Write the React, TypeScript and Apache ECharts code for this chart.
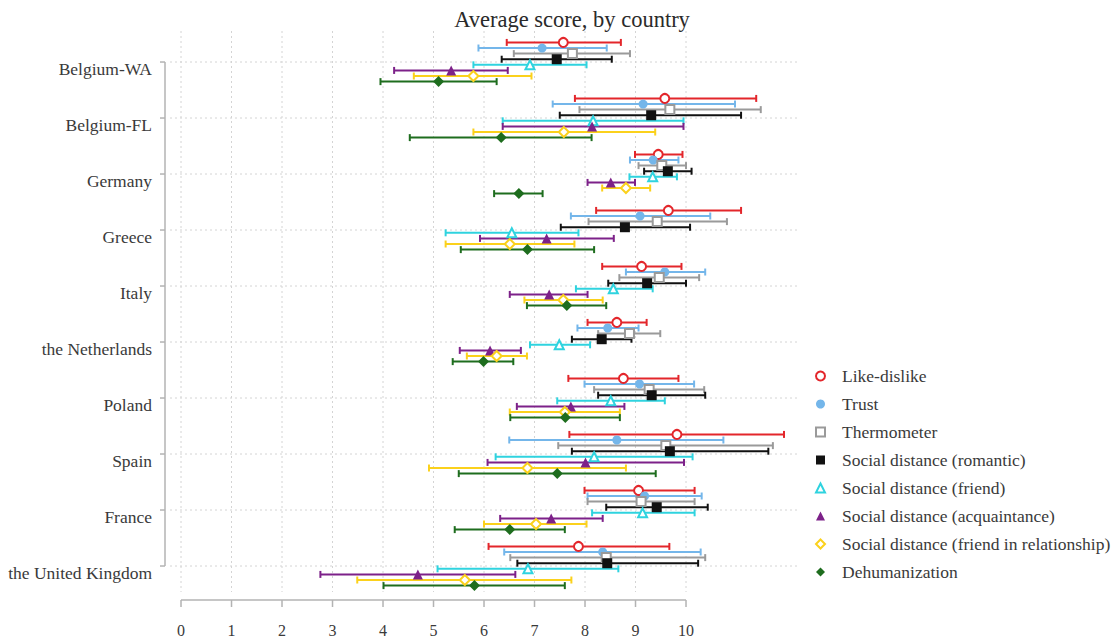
import React, { useEffect, useRef } from "react";
import * as echarts from "echarts";

const countries = [
  "Belgium-WA",
  "Belgium-FL",
  "Germany",
  "Greece",
  "Italy",
  "the Netherlands",
  "Poland",
  "Spain",
  "France",
  "the United Kingdom",
];

const measureNames = [
  "Like-dislike",
  "Trust",
  "Thermometer",
  "Social distance (romantic)",
  "Social distance (friend)",
  "Social distance (acquaintance)",
  "Social distance (friend in relationship)",
  "Dehumanization",
];

// [lower, mean, upper] per country
const likeDislike = [
  [6.45, 7.57, 8.71], [7.8, 9.58, 11.39], [8.99, 9.45, 9.93], [8.22, 9.65, 11.09], [8.34, 9.12, 9.91],
  [8.05, 8.63, 9.22], [7.67, 8.76, 9.85], [7.69, 9.82, 11.94], [7.99, 9.06, 10.17], [6.09, 7.87, 9.67],
];
const trust = [
  [5.89, 7.15, 8.43], [7.36, 9.15, 10.97], [8.89, 9.35, 9.85], [7.72, 9.09, 10.48], [8.81, 9.58, 10.38],
  [7.85, 8.45, 9.06], [7.99, 9.08, 10.16], [6.5, 8.63, 10.74], [8.05, 9.18, 10.31], [6.4, 8.35, 10.29],
];
const thermometer = [
  [6.59, 7.75, 8.89], [7.89, 9.68, 11.48], [9.06, 9.52, 10.0], [8.07, 9.43, 10.81], [8.68, 9.47, 10.26],
  [8.26, 8.88, 9.49], [8.18, 9.27, 10.36], [7.47, 9.6, 11.72], [8.05, 9.11, 10.17], [6.52, 8.42, 10.38],
];
const romantic = [
  [6.35, 7.44, 8.53], [7.5, 9.31, 11.09], [9.17, 9.64, 10.11], [7.52, 8.79, 10.08], [8.46, 9.23, 10.0],
  [7.74, 8.33, 8.92], [8.26, 9.32, 10.38], [7.74, 9.68, 11.63], [8.42, 9.42, 10.43], [6.66, 8.44, 10.24],
];
const friend = [
  [5.79, 6.91, 8.03], [6.37, 8.16, 9.95], [8.88, 9.34, 9.82], [5.24, 6.55, 7.87], [7.82, 8.56, 9.34],
  [6.91, 7.49, 8.1], [7.45, 8.51, 9.58], [6.23, 8.18, 10.13], [8.14, 9.14, 10.17], [5.08, 6.87, 8.66],
];
const acquaintance = [
  [4.22, 5.35, 6.47], [6.37, 8.14, 9.95], [8.05, 8.51, 8.99], [5.92, 7.24, 8.57], [6.51, 7.29, 8.05],
  [5.52, 6.12, 6.73], [6.65, 7.72, 8.78], [6.07, 8.01, 9.96], [6.32, 7.33, 8.35], [2.76, 4.69, 6.62],
];
const friendInRelationship = [
  [4.61, 5.79, 6.94], [5.79, 7.58, 9.39], [8.34, 8.81, 9.29], [5.24, 6.51, 7.79], [6.8, 7.57, 8.35],
  [5.66, 6.25, 6.85], [6.51, 7.6, 8.69], [4.91, 6.86, 8.81], [6.0, 7.03, 8.03], [3.49, 5.62, 7.73],
];
const dehumanization = [
  [3.95, 5.1, 6.25], [4.53, 6.34, 8.13], [6.2, 6.69, 7.16], [5.54, 6.86, 8.18], [6.85, 7.64, 8.42],
  [5.38, 5.99, 6.58], [6.52, 7.61, 8.69], [5.5, 7.45, 9.4], [5.42, 6.51, 7.6], [4.01, 5.81, 7.6],
];

const xTickValues = [0, 1, 2, 3, 4, 5, 6, 7, 8, 9, 10];

const allMeasures = [
  likeDislike,
  trust,
  thermometer,
  romantic,
  friend,
  acquaintance,
  friendInRelationship,
  dehumanization,
];

const colors = ["#e3262b", "#74b6ea", "#9a9a9a", "#111111", "#2fd3df", "#7d2189", "#fbd11c", "#1e6d1e"];
const symbols = ["emptyCircle", "circle", "emptyRect", "rect", "emptyTriangle", "triangle", "emptyDiamond", "diamond"];
const symbolSizes = [9, 9, 9, 10, 9, 10, 10, 11];

const FONT = "Liberation Serif";
const TEXT = "#3a3a3a";
const AXIS = "#b3b3b3";
const GRIDC = "#d4d4d4";

export default function App() {
  const ref = useRef<HTMLDivElement>(null);

  useEffect(() => {
    if (!ref.current) return;
    const chart = echarts.init(ref.current, undefined, { renderer: "svg" });

    const offset = (s: number) => (s - 3.5) * 0.1;

    const scatterSeries = allMeasures.map((m, s) => ({
      type: "scatter",
      name: measureNames[s],
      symbol: symbols[s],
      symbolSize: symbolSizes[s],
      itemStyle: { color: colors[s], opacity: 1 },
      z: 5,
      data: m.map((t, i) => [t[1], i + offset(s)]),
    }));

    const barSeries = allMeasures.map((m, s) => ({
      type: "custom",
      name: measureNames[s],
      itemStyle: { color: colors[s] },
      z: 3,
      encode: { x: [0, 1], y: 2 },
      data: m.map((t, i) => [t[0], t[2], i + offset(s)]),
      renderItem: (params: any, api: any) => {
        const y = api.value(2);
        const lo = api.coord([api.value(0), y]);
        const hi = api.coord([api.value(1), y]);
        const c = 3.5;
        const st = { stroke: colors[s], lineWidth: 2 };
        return {
          type: "group",
          children: [
            { type: "line", shape: { x1: lo[0], y1: lo[1], x2: hi[0], y2: hi[1] }, style: st },
            { type: "line", shape: { x1: lo[0], y1: lo[1] - c, x2: lo[0], y2: lo[1] + c }, style: st },
            { type: "line", shape: { x1: hi[0], y1: hi[1] - c, x2: hi[0], y2: hi[1] + c }, style: st },
          ],
        };
      },
    }));

    const frameSeries = {
      type: "custom",
      name: "frame",
      silent: true,
      z: 1,
      data: [[0, 0]],
      encode: { x: 0, y: 1 },
      renderItem: (params: any, api: any) => {
        const cs = params.coordSys;
        const children: any[] = [];
        const bottom = cs.y + cs.height;
        xTickValues.forEach((v) => {
          const p = api.coord([v, 0]);
          children.push({
            type: "line",
            shape: { x1: p[0], y1: cs.y, x2: p[0], y2: bottom },
            style: { stroke: GRIDC, lineWidth: 1, lineDash: [2, 3] },
          });
          children.push({
            type: "line",
            shape: { x1: p[0], y1: bottom + 8, x2: p[0], y2: bottom + 15 },
            style: { stroke: AXIS, lineWidth: 1.5 },
          });
        });
        countries.forEach((_, i) => {
          const p = api.coord([0, i]);
          children.push({
            type: "line",
            shape: { x1: cs.x + 5, y1: p[1], x2: cs.x + cs.width, y2: p[1] },
            style: { stroke: GRIDC, lineWidth: 1, lineDash: [2, 3] },
          });
          children.push({
            type: "line",
            shape: { x1: cs.x - 5, y1: p[1], x2: cs.x, y2: p[1] },
            style: { stroke: AXIS, lineWidth: 1.5 },
          });
        });
        const yTop = api.coord([0, 0])[1];
        const yBot = api.coord([0, countries.length - 1])[1];
        children.push({
          type: "line",
          shape: { x1: cs.x, y1: yTop, x2: cs.x, y2: yBot },
          style: { stroke: AXIS, lineWidth: 1.5 },
        });
        const x0 = api.coord([xTickValues[0], 0])[0];
        const x1 = api.coord([xTickValues[xTickValues.length - 1], 0])[0];
        children.push({
          type: "line",
          shape: { x1: x0, y1: bottom + 8, x2: x1, y2: bottom + 8 },
          style: { stroke: AXIS, lineWidth: 1.5 },
        });
        return { type: "group", children };
      },
    };

    const option = {
      animation: false,
      backgroundColor: "#ffffff",
      textStyle: { fontFamily: FONT },
      title: {
        text: "Average score, by country",
        left: 567,
        textAlign: "center",
        top: 3,
        textStyle: { fontFamily: FONT, fontSize: 22.5, fontWeight: "normal", color: "#2a2a2a" },
      },
      legend: {
        orient: "vertical",
        left: 810,
        top: 362,
        itemWidth: 9,
        itemHeight: 9,
        itemGap: 10,
        selectedMode: false,
        data: measureNames.map((n, i) => ({ name: n, icon: symbols[i] })),
        textStyle: {
          fontFamily: FONT,
          fontSize: 17.5,
          color: TEXT,
          lineHeight: 18,
          padding: [0, 0, 0, 12],
        },
      },
      grid: { left: 165, top: 31, width: 635, height: 561 },
      xAxis: {
        type: "value",
        min: -0.317,
        max: 12.257,
        axisLine: { show: false },
        axisTick: { show: false },
        splitLine: { show: false },
        axisLabel: {
          customValues: xTickValues,
          margin: 30,
          fontFamily: FONT,
          fontSize: 16,
          color: TEXT,
        },
      },
      yAxis: {
        type: "value",
        inverse: true,
        min: -0.554,
        max: 9.464,
        axisLine: { show: false },
        axisTick: { show: false },
        splitLine: { show: false },
        axisLabel: {
          customValues: countries.map((_, i) => i),
          formatter: (v: number) => countries[Math.round(v)] ?? "",
          margin: 13,
          verticalAlign: "top",
          lineHeight: 14,
          fontFamily: FONT,
          fontSize: 17.5,
          color: TEXT,
        },
      },
      series: [...scatterSeries, ...barSeries, frameSeries],
    };

    chart.setOption(option as any);
    return () => chart.dispose();
  }, []);

  return (
    <div
      ref={ref}
      style={{ position: "absolute", left: 0, top: 0, width: 1119, height: 640 }}
    />
  );
}
